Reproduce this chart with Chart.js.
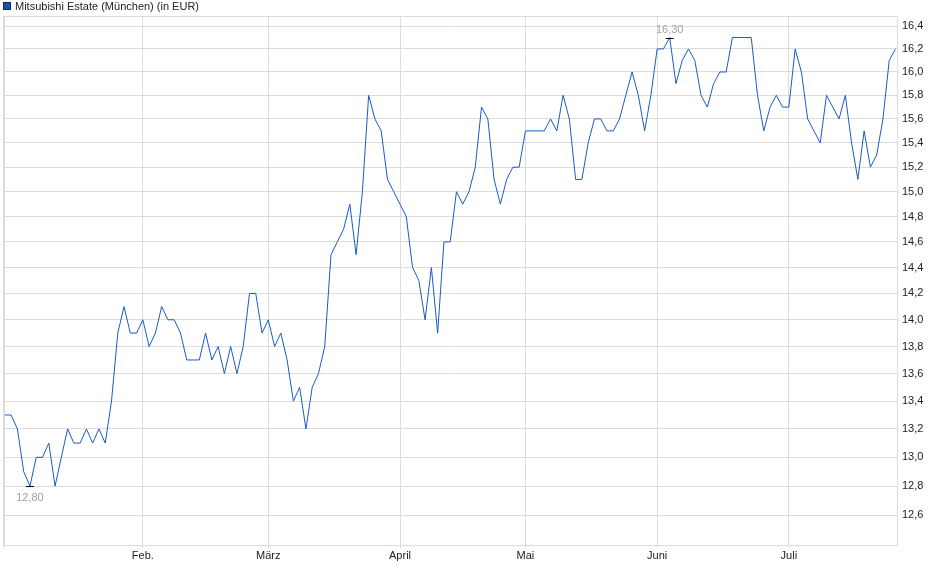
<!DOCTYPE html>
<html>
<head>
<meta charset="utf-8">
<title>Mitsubishi Estate (München)</title>
<script src="https://cdn.jsdelivr.net/npm/chart.js@4.4.1/dist/chart.umd.min.js"></script>
<style>
    body { margin: 0; background: #fff; }
    #wrap { width: 940px; height: 579px; }
</style>
</head>
<body>
<div id="wrap"><canvas id="myChart" width="940" height="579"></canvas></div>
<script>
// closing prices in EUR, one per trading day (Jan - Jul)
var prices = [
    13.3, 13.3, 13.2, 12.9, 12.8, 13.0, 13.0, 13.1, 12.8, 13.0,
    13.2, 13.1, 13.1, 13.2, 13.1, 13.2, 13.1, 13.4, 13.9, 14.1,
    13.9, 13.9, 14.0, 13.8, 13.9, 14.1, 14.0, 14.0, 13.9, 13.7,
    13.7, 13.7, 13.9, 13.7, 13.8, 13.6, 13.8, 13.6, 13.8, 14.2,
    14.2, 13.9, 14.0, 13.8, 13.9, 13.7, 13.4, 13.5, 13.2, 13.5,
    13.6, 13.8, 14.5, 14.6, 14.7, 14.9, 14.5, 15.0, 15.8, 15.6,
    15.5, 15.1, 15.0, 14.9, 14.8, 14.4, 14.3, 14.0, 14.4, 13.9,
    14.6, 14.6, 15.0, 14.9, 15.0, 15.2, 15.7, 15.6, 15.1, 14.9,
    15.1, 15.2, 15.2, 15.5, 15.5, 15.5, 15.5, 15.6, 15.5, 15.8,
    15.6, 15.1, 15.1, 15.4, 15.6, 15.6, 15.5, 15.5, 15.6, 15.8,
    16.0, 15.8, 15.5, 15.8, 16.2, 16.2, 16.3, 15.9, 16.1, 16.2,
    16.1, 15.8, 15.7, 15.9, 16.0, 16.0, 16.3, 16.3, 16.3, 16.3,
    15.8, 15.5, 15.7, 15.8, 15.7, 15.7, 16.2, 16.0, 15.6, 15.5,
    15.4, 15.8, 15.7, 15.6, 15.8, 15.4, 15.1, 15.5, 15.2, 15.3,
    15.6, 16.1, 16.2
];

// month starts (index of trading day) and their labels
var monthIdx = [22, 42, 63, 83, 104, 125];
var monthLabels = ["Feb.", "März", "April", "Mai", "Juni", "Juli"];

var yTicks = [12.6, 12.8, 13.0, 13.2, 13.4, 13.6, 13.8, 14.0, 14.2, 14.4,
              14.6, 14.8, 15.0, 15.2, 15.4, 15.6, 15.8, 16.0, 16.2, 16.4];

var legendText = "Mitsubishi Estate (München) (in EUR)";

var gridColor = "#dcdcdc";
var fontName = "'Liberation Sans', Arial, sans-serif";

function fmt(v, d) {
    return v.toFixed(d).replace(".", ",");
}

// legend, plot frame and the min / max markers
var extras = {
    id: "extras",
    afterDraw: function (chart) {
        let ctx = chart.ctx;
        let area = chart.chartArea;
        let xs = chart.scales.x;
        let ys = chart.scales.y;

        ctx.save();
        ctx.strokeStyle = gridColor;
        ctx.lineWidth = 1;
        ctx.strokeRect(Math.round(area.left) + 0.5, Math.round(area.top) + 0.5,
            Math.round(area.right - area.left) - 1, Math.round(area.bottom - area.top));

        // legend
        ctx.fillStyle = "#1f4fa8";
        ctx.fillRect(3, 2, 8, 8);
        ctx.strokeStyle = "#0d2a66";
        ctx.strokeRect(3.5, 2.5, 7, 7);
        ctx.fillStyle = "#222";
        ctx.font = "11px " + fontName;
        ctx.textBaseline = "middle";
        ctx.textAlign = "left";
        ctx.fillText(legendText, 15, 6.5);

        // min / max
        let lo = Math.min.apply(null, prices);
        let hi = Math.max.apply(null, prices);
        let iLo = prices.indexOf(lo);
        let iHi = prices.indexOf(hi);
        let marks = [[iLo, lo, 11], [iHi, hi, -9]];
        marks.forEach(function (m) {
            let px = xs.getPixelForValue(m[0]);
            let py = Math.round(ys.getPixelForValue(m[1])) + 0.5;
            ctx.strokeStyle = "#000";
            ctx.beginPath();
            ctx.moveTo(px - 4, py);
            ctx.lineTo(px + 4, py);
            ctx.stroke();
            ctx.fillStyle = "#a89f94";
            ctx.textAlign = "center";
            ctx.fillText(fmt(m[1], 2), px, py + m[2]);
        });
        ctx.restore();
    }
};

new Chart("myChart", {
    type: "line",
    data: {
        datasets: [{
            data: prices.map(function (v, i) { return { x: i, y: v }; }),
            borderColor: "#1a5ac8",
            borderWidth: 1,
            pointRadius: 0,
            tension: 0,
            fill: false
        }]
    },
    options: {
        responsive: false,
        animation: false,
        devicePixelRatio: 1,
        layout: { padding: { left: 3, top: 16, right: 0, bottom: 0 } },
        plugins: {
            legend: { display: false },
            tooltip: { enabled: false }
        },
        scales: {
            x: {
                type: "linear",
                min: -0.3,
                max: 142.4,
                afterBuildTicks: function (scale) {
                    scale.ticks = [{ value: 0 }].concat(monthIdx.map(function (v) { return { value: v }; }));
                },
                afterFit: function (scale) {
                    scale.height = 34;
                },
                ticks: {
                    autoSkip: false,
                    maxRotation: 0,
                    padding: 1,
                    color: "#222",
                    font: { family: fontName, size: 11 },
                    callback: function (value) {
                        let k = monthIdx.indexOf(value);
                        return k < 0 ? "" : monthLabels[k];
                    }
                },
                grid: { color: gridColor, tickLength: 3 },
                border: { display: false }
            },
            y: {
                type: "logarithmic",
                position: "right",
                min: 12.405,
                max: 16.49,
                afterBuildTicks: function (scale) {
                    scale.ticks = yTicks.map(function (v) { return { value: v }; });
                },
                afterFit: function (scale) {
                    scale.width = 42;
                },
                ticks: {
                    padding: 4,
                    color: "#222",
                    font: { family: fontName, size: 11 },
                    callback: function (value) {
                        return fmt(value, 1);
                    }
                },
                grid: { color: gridColor, drawTicks: false },
                border: { display: false }
            }
        }
    },
    plugins: [extras]
});
</script>
</body>
</html>
